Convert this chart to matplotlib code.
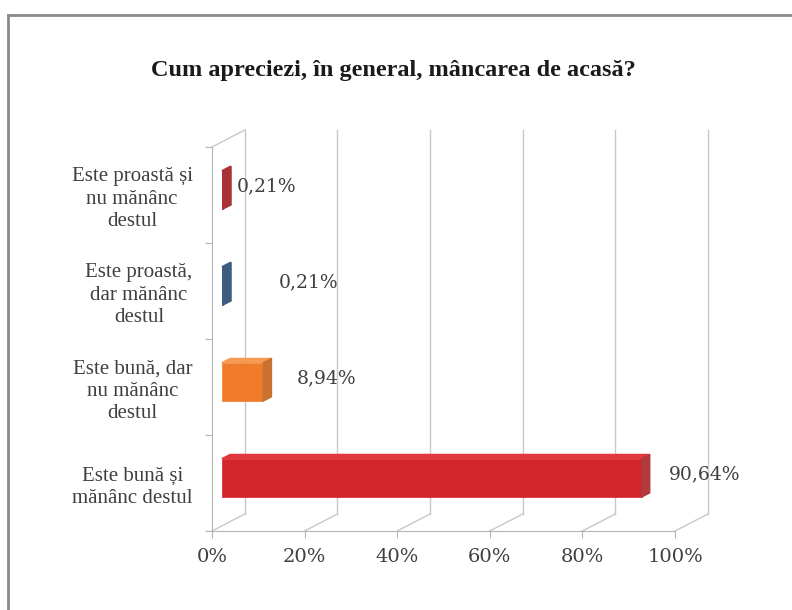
import matplotlib.pyplot as plt
from matplotlib.lines import Line2D

# data, listed top to bottom as in the chart
categories = ['Este proastă și\nnu mănânc\ndestul',
              'Este proastă,\ndar mănânc\ndestul',
              'Este bună, dar\nnu mănânc\ndestul',
              'Este bună și\nmănânc destul']
values = [0.21, 0.21, 8.94, 90.64]
value_labels = ['0,21%', '0,21%', '8,94%', '90,64%']
front_colors = ['#C0393D', '#4A6D95', '#F07C2B', '#D3242B']
side_colors = ['#A83236', '#3C5B7F', '#C9722F', '#B23A3E']
top_colors = ['#D0484C', '#5C80A8', '#F59A52', '#E2373C']
label_gap = [4, 34, 18, 14]   # points between bar end and its label
xticks = [0, 20, 40, 60, 80, 100]

# pseudo-3D depth offset, in data units
DX, DY = 7.1, 0.177
D0, D1 = 0.3, 0.55
H = 0.4

fig = plt.figure(figsize=(7.92, 6.10), dpi=100)
ax = fig.add_axes([212/792, 79/610, 463/792, 384/610])
ax.set_xlim(0, 100)
ax.set_ylim(0, 4)

grid = '#c8c8c8'
txt = '#404040'

# back wall / floor lines
for x in xticks:
    ax.plot([x + DX, x + DX], [DY, 4 + DY], color=grid, lw=1, clip_on=False)
    ax.plot([x, x + DX], [0, DY], color=grid, lw=1, clip_on=False)
ax.plot([0, DX], [4, 4 + DY], color=grid, lw=1, clip_on=False)

for s in ['top', 'right']:
    ax.spines[s].set_visible(False)
for s in ['left', 'bottom']:
    ax.spines[s].set_color('#b4b4b4')

ax.set_xticks(xticks)
ax.set_xticklabels([f'{x}%' for x in xticks], fontsize=14, color=txt,
                   family='DejaVu Serif')
ax.set_yticks([0, 1, 2, 3, 4])
ax.set_yticklabels([])
ax.tick_params(axis='both', which='major', length=5, color='#b4b4b4')
ax.tick_params(axis='x', pad=7)

ypos = [3.5, 2.5, 1.5, 0.5]
ax.set_yticks(ypos, minor=True)
ax.set_yticklabels(categories, minor=True, fontsize=15, color=txt,
                   family='Liberation Serif')
ax.tick_params(axis='y', which='minor', length=0, pad=14)
for t in ax.get_yticklabels(minor=True):
    t.set_multialignment('center')
    t.set_linespacing(1.25)

for i in range(4):
    v, yc = values[i], ypos[i]
    y0 = yc - H / 2 + DY * D0
    y1 = yc + H / 2 + DY * D0
    x0 = DX * D0
    ax.barh(yc + DY * D0, v, left=x0, height=H, color=front_colors[i],
            edgecolor=front_colors[i], lw=0.5, clip_on=False, zorder=3)
    ddx, ddy = DX * (D1 - D0), DY * (D1 - D0)
    ax.fill([x0, x0 + v, x0 + v + ddx, x0 + ddx],
            [y1, y1, y1 + ddy, y1 + ddy], color=top_colors[i],
            clip_on=False, zorder=3)
    ax.fill([x0 + v, x0 + v + ddx, x0 + v + ddx, x0 + v],
            [y0, y0 + ddy, y1 + ddy, y1], color=side_colors[i],
            clip_on=False, zorder=3)
    ax.annotate(value_labels[i], xy=(x0 + v + ddx, yc + DY * 0.5),
                xytext=(label_gap[i], 0), textcoords='offset points',
                ha='left', va='center', fontsize=13.5, color=txt,
                family='DejaVu Serif', annotation_clip=False)

fig.text(0.497, 0.885, 'Cum apreciezi, în general, mâncarea de acasă?',
         ha='center', va='center', fontsize=17.5, fontweight='bold',
         color='#1a1a1a', family='Liberation Serif')

# outer border (left and top only)
fig.add_artist(Line2D([8/792, 8/792], [0, 1 - 15/610], color='#8a8a8a', lw=2))
fig.add_artist(Line2D([8/792, 1], [1 - 15/610, 1 - 15/610], color='#8a8a8a', lw=2))

fig.savefig('out.png', dpi=100)
